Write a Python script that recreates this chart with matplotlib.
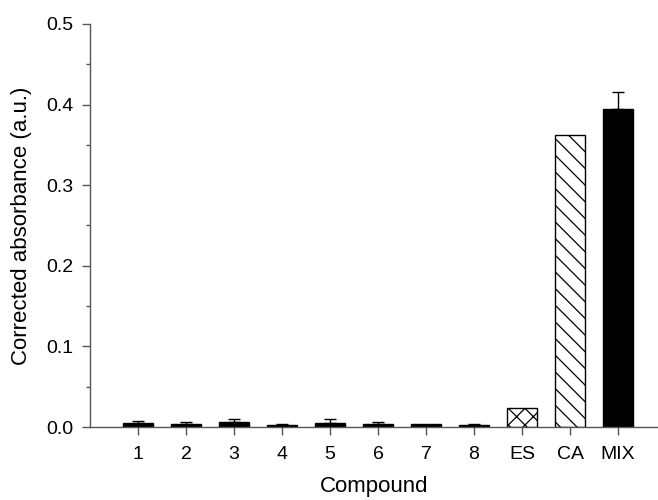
import matplotlib
matplotlib.use("Agg")
import matplotlib.pyplot as plt

categories = ["1", "2", "3", "4", "5", "6", "7", "8", "ES", "CA", "MIX"]
values = [0.0045, 0.0033, 0.006, 0.0028, 0.0045, 0.0033, 0.0033, 0.003, 0.023, 0.362, 0.395]
errors = [0.0033, 0.0029, 0.0037, 0.0007, 0.0053, 0.0025, 0.0, 0.0005, 0.0, 0.0, 0.021]
fills = ["black"] * 8 + ["white", "white", "black"]
hatches = [""] * 8 + ["xx", "\\\\", ""]

plt.rcParams['font.family'] = ['Liberation Sans', 'DejaVu Sans']
plt.rcParams['hatch.linewidth'] = 0.9

fig = plt.figure(figsize=(6.58, 5.0), dpi=100)
ax = fig.add_axes([0.137, 0.146, 0.862, 0.806])

x = list(range(1, len(categories) + 1))
for xi, v, e, fc, h in zip(x, values, errors, fills, hatches):
    ax.bar(xi, v, width=0.62, color=fc, edgecolor="black", linewidth=1.0, hatch=h, zorder=2)
    if e > 0:
        ax.errorbar(xi, v, yerr=[[0], [e]], fmt="none", ecolor="black", elinewidth=1.0,
                    capsize=4.3, capthick=1.0, zorder=3)

ax.set_xlim(0, 11.82)
ax.set_ylim(0, 0.5)
ax.set_xticks(x)
ax.set_xticklabels(categories)
ax.set_yticks([0.0, 0.1, 0.2, 0.3, 0.4, 0.5])
ax.set_yticklabels(["0.0", "0.1", "0.2", "0.3", "0.4", "0.5"])
ax.set_yticks([0.05, 0.15, 0.25, 0.35, 0.45], minor=True)

for s in ["top", "right"]:
    ax.spines[s].set_visible(False)
for s in ["left", "bottom"]:
    ax.spines[s].set_color("#555555")
    ax.spines[s].set_linewidth(1.0)

ax.tick_params(axis="y", which="major", direction="out", length=6, width=1.0,
               color="#555555", labelsize=14, pad=6)
ax.tick_params(axis="x", which="major", direction="out", length=6, width=1.0,
               color="#555555", labelsize=14, pad=8)
ax.tick_params(axis="y", which="minor", direction="out", length=3, width=1.0, color="#555555")

ax.set_xlabel("Compound", fontsize=16, labelpad=9)
ax.set_ylabel("Corrected absorbance (a.u.)", fontsize=16, labelpad=10)

fig.savefig("out.png", dpi=100)
